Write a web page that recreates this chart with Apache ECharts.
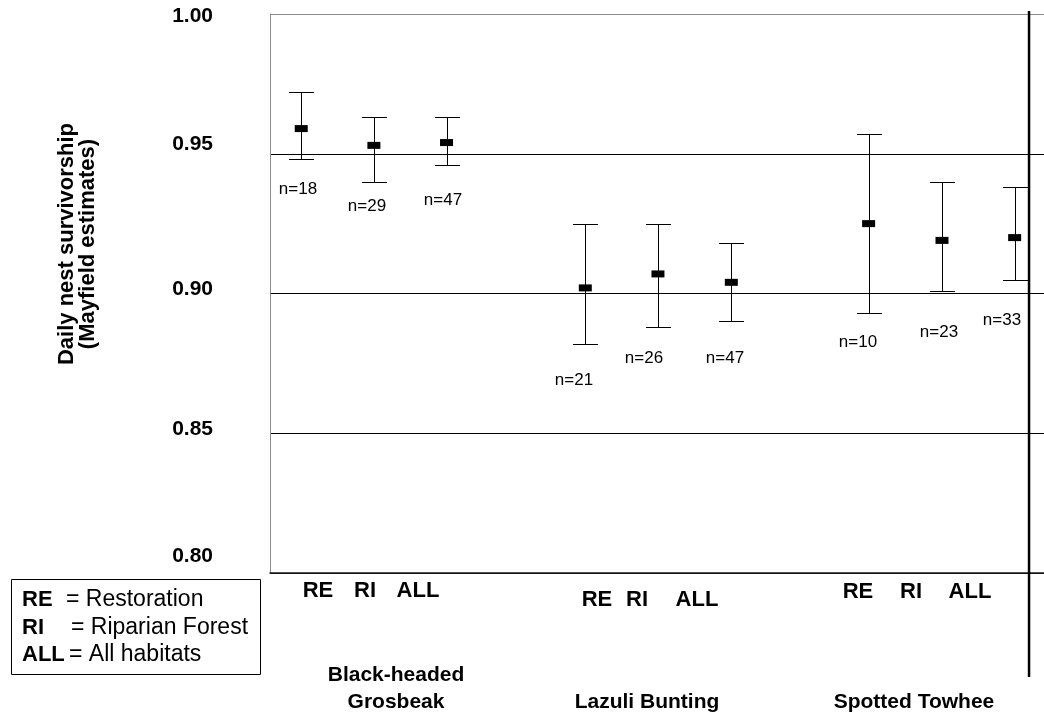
<!DOCTYPE html>
<html>
<head>
<meta charset="utf-8">
<script src="https://cdn.jsdelivr.net/npm/echarts@6/dist/echarts.min.js"></script>
<style>
  html, body { margin: 0; padding: 0; background: #fff; }
  #c { width: 1044px; height: 717px; }
</style>
</head>
<body>
<div id="c"></div>
<script>
// ---------------- data ----------------
const species = ['Black-headed\nGrosbeak', 'Lazuli Bunting', 'Spotted Towhee'];
const habitats = ['RE', 'RI', 'ALL'];
// position of each estimate along the x axis (group index units)
const xPos = [0, 1, 2, 3.91, 4.91, 5.92, 7.81, 8.82, 9.82];
const means = [0.959, 0.953, 0.954, 0.902, 0.907, 0.904, 0.925, 0.919, 0.920];
const upper = [0.972, 0.963, 0.963, 0.925, 0.925, 0.918, 0.957, 0.940, 0.938];
const lower = [0.948, 0.940, 0.946, 0.882, 0.888, 0.890, 0.893, 0.901, 0.905];
const nCounts = [18, 29, 47, 21, 26, 47, 10, 23, 33];
const yTicks = [0.80, 0.85, 0.90, 0.95, 1.00];
const dividerX = 10.018;
const legendItems = [['RE', 'Restoration'], ['RI', 'Riparian Forest'], ['ALL', 'All habitats']];

// ---------------- layout (pixels) ----------------
const FONT = "'Liberation Sans', Arial, Helvetica, sans-serif";
const nLabelPos = [[298, 189], [367, 206], [443, 200], [574, 380], [644, 358], [725, 358], [858, 342], [939, 332], [1002, 320]];
const habLabelPos = [
  [[318, 591], [365, 591], [418, 591]],
  [[597, 600], [637, 600], [697, 600]],
  [[858, 592], [911, 592], [970, 592]]
];
const speciesPos = [[396, 689], [647, 702], [914, 702]];
// vertical shifts of tick labels (px, negative = up)
const tickShift = { '0.80': -17, '0.85': -4.5, '0.90': -4, '0.95': -10, '1.00': 2.5 };

const rich = {};
yTicks.forEach(t => {
  const k = t.toFixed(2);
  const s = tickShift[k] || 0;
  rich['l' + k.replace('.', '')] = {
    fontFamily: FONT, fontWeight: 'bold', fontSize: 21, color: '#000',
    padding: s < 0 ? [0, 0, -2 * s, 0] : [2 * s, 0, 0, 0]
  };
});

const chart = echarts.init(document.getElementById('c'), null, { renderer: 'canvas' });

const errData = xPos.map((x, i) => [x, lower[i], upper[i]]);
const meanData = xPos.map((x, i) => [x, means[i]]);

const graphics = [];
// n labels
nCounts.forEach((n, i) => {
  graphics.push({
    type: 'text', x: nLabelPos[i][0], y: nLabelPos[i][1], silent: true,
    style: { text: 'n=' + n, fill: '#000', font: '17px ' + FONT, textAlign: 'center', align: 'center', textVerticalAlign: 'middle', verticalAlign: 'middle' }
  });
});
// habitat labels
habLabelPos.forEach(g => g.forEach((p, j) => {
  graphics.push({
    type: 'text', x: p[0], y: p[1], silent: true,
    style: { text: habitats[j], fill: '#000', font: 'bold 22px ' + FONT, textAlign: 'center', align: 'center', textVerticalAlign: 'middle', verticalAlign: 'middle' }
  });
}));
// species labels
species.forEach((s, i) => {
  graphics.push({
    type: 'text', x: speciesPos[i][0], y: speciesPos[i][1], silent: true,
    style: { text: s, fill: '#000', font: 'bold 21px ' + FONT, lineHeight: 27, textAlign: 'center', align: 'center', textVerticalAlign: 'middle', verticalAlign: 'middle' }
  });
});
// y axis title
graphics.push({
  type: 'text', x: 77, y: 244, rotation: Math.PI / 2, silent: true,
  style: { text: 'Daily nest survivorship\n(Mayfield estimates)', fill: '#000', font: 'bold 22px ' + FONT, lineHeight: 21, textAlign: 'center', align: 'center', textVerticalAlign: 'middle', verticalAlign: 'middle' }
});
// legend box
graphics.push({
  type: 'rect', silent: true,
  shape: { x: 11.5, y: 579.5, width: 249, height: 95 },
  style: { fill: '#fff', stroke: '#000', lineWidth: 1 }
});
const eqX = [66, 71, 69];
legendItems.forEach((it, i) => {
  const y = 600 + i * 27.5;
  graphics.push({
    type: 'text', x: 22, y: y, silent: true,
    style: { text: it[0], fill: '#000', font: 'bold 22px ' + FONT, textAlign: 'left', align: 'left', textVerticalAlign: 'middle', verticalAlign: 'middle' }
  });
  graphics.push({
    type: 'text', x: eqX[i], y: y, silent: true,
    style: { text: '= ' + it[1], fill: '#000', font: '23px ' + FONT, textAlign: 'left', align: 'left', textVerticalAlign: 'middle', verticalAlign: 'middle' }
  });
});

const option = {
  animation: false,
  backgroundColor: '#fff',
  grid: { left: 270, right: 0, top: 14, bottom: 144, containLabel: false, outerBoundsMode: 'none' },
  xAxis: {
    type: 'value', min: -0.43, max: 10.224,
    axisLine: { show: true, onZero: false, lineStyle: { color: '#1a1a1a', width: 1.5 } },
    axisTick: { show: false }, axisLabel: { show: false }, splitLine: { show: false }
  },
  yAxis: {
    type: 'value', min: 0.8, max: 1.0, interval: 0.05,
    axisLine: { show: true, onZero: false, lineStyle: { color: '#8c8c8c', width: 1 } },
    axisTick: { show: false },
    axisLabel: {
      margin: 57, color: '#000', fontFamily: FONT, fontWeight: 'bold', fontSize: 21,
      formatter: v => { const k = v.toFixed(2); return '{l' + k.replace('.', '') + '|' + k + '}'; },
      rich: rich
    },
    splitLine: { show: true, lineStyle: { color: ['#000', '#000', '#000', '#000', '#8c8c8c'], width: 1 } }
  },
  series: [
    {
      type: 'custom', name: 'CI', data: errData, encode: { x: 0, y: [1, 2] }, z: 2,
      renderItem: (params, api) => {
        const x = api.value(0);
        const pLo = api.coord([x, api.value(1)]);
        const pHi = api.coord([x, api.value(2)]);
        const cx = Math.round(pLo[0]) + 0.5;
        const yl = Math.round(pLo[1]) + 0.5, yh = Math.round(pHi[1]) + 0.5;
        const hw = 12.5;
        const st = { stroke: '#000', lineWidth: 1 };
        return {
          type: 'group', children: [
            { type: 'line', shape: { x1: cx, y1: yh, x2: cx, y2: yl }, style: st },
            { type: 'line', shape: { x1: cx - hw, y1: yh, x2: cx + hw, y2: yh }, style: st },
            { type: 'line', shape: { x1: cx - hw, y1: yl, x2: cx + hw, y2: yl }, style: st }
          ]
        };
      }
    },
    {
      type: 'scatter', name: 'Mean', data: meanData, z: 3,
      symbol: 'rect', symbolSize: [13, 7],
      itemStyle: { color: '#000', opacity: 1 }
    }
  ],
  graphic: graphics
};
chart.setOption(option);

// divider line at the right of the plot
const dx = chart.convertToPixel({ xAxisIndex: 0 }, dividerX);
graphics.push({
  type: 'line', silent: true, z: 10,
  shape: { x1: dx, y1: 11, x2: dx, y2: 677 },
  style: { stroke: '#000', lineWidth: 2.5 }
});
chart.setOption({ graphic: graphics });
</script>
</body>
</html>
